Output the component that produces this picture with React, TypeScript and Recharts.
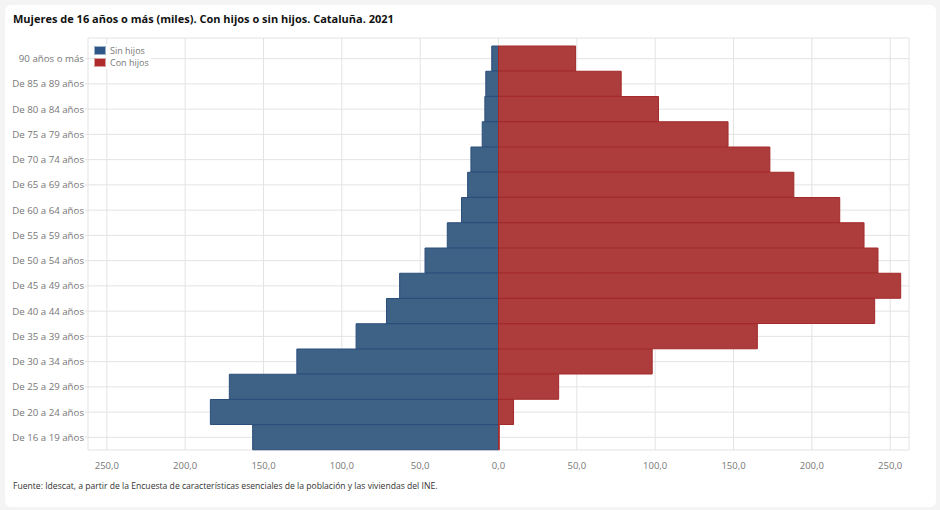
import { Bar, BarChart, CartesianGrid, XAxis, YAxis } from "recharts";

const ageGroups = [
  "90 años o más",
  "De 85 a 89 años",
  "De 80 a 84 años",
  "De 75 a 79 años",
  "De 70 a 74 años",
  "De 65 a 69 años",
  "De 60 a 64 años",
  "De 55 a 59 años",
  "De 50 a 54 años",
  "De 45 a 49 años",
  "De 40 a 44 años",
  "De 35 a 39 años",
  "De 30 a 34 años",
  "De 25 a 29 años",
  "De 20 a 24 años",
  "De 16 a 19 años",
];

// thousands of women
const sinHijos = [4.3, 8.1, 8.7, 10.4, 17.6, 19.7, 23.6, 32.7, 46.9, 63.1, 71.5, 90.9, 128.7, 171.8, 183.9, 156.9];
const conHijos = [49.2, 78.3, 102.1, 146.5, 173.2, 188.5, 217.8, 233.3, 242.2, 256.7, 240.1, 165.2, 98.1, 38.4, 9.6, 0.5];

const xTicks = [-250, -200, -150, -100, -50, 0, 50, 100, 150, 200, 250];

const data = ageGroups.map((group, i) => ({
  group,
  sin: -sinHijos[i],
  con: conHijos[i],
}));

const FONT = "'Open Sans', sans-serif";
const BLUE = "#3e6186";
const RED = "#ad3d3d";

function fmt(v: number) {
  return Math.abs(v).toFixed(1).replace(".", ",");
}

function LegendBox() {
  const items = [
    { label: "Sin hijos", color: "#2e5788", border: "#9fb3c8" },
    { label: "Con hijos", color: "#b02c2c", border: "#d9a0a0" },
  ];
  return (
    <div
      style={{
        position: "absolute",
        left: 94,
        top: 44,
        fontFamily: FONT,
        fontSize: 9,
        color: "#777",
        background: "#fff",
        paddingRight: 2,
      }}
    >
      {items.map((it) => (
        <div key={it.label} style={{ display: "flex", alignItems: "center", height: 12.5 }}>
          <span
            style={{
              display: "inline-block",
              width: 10,
              height: 7,
              background: it.color,
              border: `1px solid ${it.border}`,
              marginRight: 4,
            }}
          />
          {it.label}
        </div>
      ))}
    </div>
  );
}

export default function App() {
  return (
    <div style={{ position: "relative", width: 940, height: 510, background: "#f4f4f4", fontFamily: FONT }}>
      <style>{"body{margin:0}"}</style>
      <div
        style={{
          position: "absolute",
          left: 5,
          top: 5,
          width: 931,
          height: 502,
          background: "#fff",
          borderRadius: 6,
        }}
      />
      <div
        style={{
          position: "absolute",
          left: 13,
          top: 11,
          fontSize: 11,
          fontWeight: 700,
          color: "#111",
        }}
      >
        Mujeres de 16 años o más (miles). Con hijos o sin hijos. Cataluña. 2021
      </div>
      <div style={{ position: "absolute", left: 0, top: 0 }}>
        <BarChart
          width={940}
          height={510}
          data={data}
          layout="vertical"
          stackOffset="sign"
          barCategoryGap={0}
          margin={{ top: 38, right: 31, left: 0, bottom: 30 }}
        >
          <CartesianGrid stroke="#e3e3e3" />
          <XAxis
            type="number"
            domain={[-262, 262]}
            ticks={xTicks}
            tickFormatter={fmt}
            axisLine={false}
            tickLine={false}
            tickSize={0}
            tickMargin={12}
            height={30}
            tick={{ fill: "#777", fontSize: 9.5, fontFamily: FONT }}
          />
          <YAxis
            type="category"
            dataKey="group"
            width={88}
            padding={{ top: 8, bottom: 0 }}
            axisLine={false}
            tickLine={{ stroke: "#e3e3e3" }}
            tickSize={3}
            tickMargin={1}
            interval={0}
            tick={{ fill: "#777", fontSize: 9.7, fontFamily: FONT, width: 200 }}
          />
          <Bar
            dataKey="sin"
            name="Sin hijos"
            stackId="a"
            fill={BLUE}
            stroke="#2b4e7a"
            strokeWidth={1}
            isAnimationActive={false}
          />
          <Bar
            dataKey="con"
            name="Con hijos"
            stackId="a"
            fill={RED}
            stroke="#a32a2a"
            strokeWidth={1}
            isAnimationActive={false}
          />
        </BarChart>
      </div>
      <LegendBox />
      <div
        style={{
          position: "absolute",
          left: 13,
          top: 480,
          fontSize: 8.6,
          color: "#333",
        }}
      >
        Fuente: Idescat, a partir de la Encuesta de características esenciales de la población y las viviendas del INE.
      </div>
    </div>
  );
}
